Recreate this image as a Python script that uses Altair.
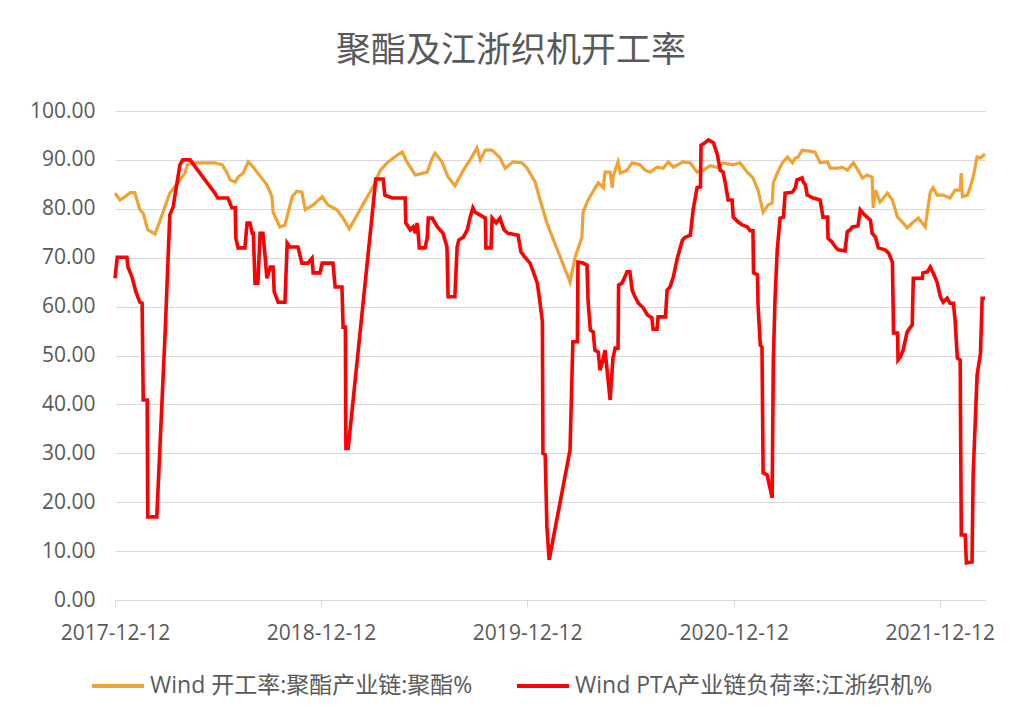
import altair as alt
import pandas as pd

START = "2017-12-12"

# 聚酯开工率 (days since 2017-12-12, value %)
poly_days = [0, 9, 18, 27, 35, 44, 50, 58, 71, 97, 115, 124, 128, 138, 177, 190, 198, 204, 213, 218,
             227, 236, 245, 253, 269, 278, 280, 292, 301, 314, 322, 331, 337, 351, 367, 377, 393, 404, 415,
             457, 470, 482, 500, 509, 517, 532, 553, 562, 567, 579, 590, 602, 617, 629, 641, 647, 656, 668,
             682, 691, 705, 721, 730, 735, 744, 753, 765, 806, 815, 827, 829, 838, 845, 856, 865, 868, 877,
             881, 882, 891, 895, 907, 916, 930, 939, 948, 960, 971, 980, 989, 1006, 1019, 1031, 1042, 1054,
             1067, 1077, 1095, 1107, 1120, 1130, 1139, 1148, 1157, 1164, 1166, 1173, 1182, 1191, 1200, 1205,
             1210, 1217, 1231, 1240, 1249, 1262, 1267, 1279, 1288, 1297, 1308, 1316, 1324, 1332, 1341, 1343,
             1347, 1355, 1368, 1377, 1386, 1396, 1403, 1414, 1423, 1435, 1444, 1449, 1456, 1467, 1479, 1488,
             1497, 1499, 1501, 1510, 1515, 1520, 1527, 1533, 1541]
poly_vals = [83.2, 81.8, 82.5, 83.3, 83.3, 79.8, 79.1, 75.7, 74.8, 83.2, 85.9, 87.3, 89.0, 89.4, 89.4, 89.0,
             87.5, 85.9, 85.5, 86.5, 87.3, 89.6, 88.5, 87.3, 84.9, 82.5, 79.3, 76.3, 76.7, 82.5, 83.6, 83.4,
             79.8, 80.8, 82.5, 80.8, 79.8, 78.1, 75.9, 84.5, 87.9, 89.4, 91.0, 91.6, 89.6, 86.9, 87.5, 90.4,
             91.4, 89.6, 86.5, 84.7, 87.9, 90.0, 92.4, 90.0, 92.0, 92.0, 90.4, 88.3, 89.6, 89.4, 88.3, 87.3,
             85.5, 81.8, 77.1, 65.0, 70.1, 74.2, 79.3, 81.8, 83.2, 85.3, 84.3, 87.5, 87.5, 84.3, 86.5, 89.6,
             87.3, 87.9, 89.4, 89.0, 87.9, 87.5, 88.5, 88.3, 89.6, 88.5, 89.6, 89.4, 87.5, 87.9, 88.8, 88.5,
             89.4, 89.0, 89.4, 87.5, 86.3, 83.8, 79.3, 80.8, 81.2, 85.3, 87.3, 89.4, 90.6, 89.4, 90.4, 90.6,
             92.0, 91.8, 91.6, 89.4, 89.6, 88.3, 88.3, 88.5, 87.9, 89.4, 87.9, 86.3, 86.9, 86.5, 80.2, 83.8,
             81.4, 83.2, 81.8, 78.3, 77.1, 76.1, 77.3, 78.1, 76.3, 83.4, 84.3, 82.8, 82.8, 82.2, 83.8, 83.8,
             87.3, 82.5, 82.8, 84.5, 86.5, 90.6, 90.4, 91.2]

# 江浙织机负荷率 (days since 2017-12-12, value %)
loom_days = [0, 4, 21, 23, 30, 37, 44, 48, 50, 57, 58, 74, 89, 97, 103, 115, 120, 133, 177, 182, 200, 207,
             213, 214, 218, 230, 234, 239, 243, 245, 248, 253, 257, 262, 266, 269, 275, 280, 282, 289, 301,
             305, 310, 324, 331, 342, 349, 351, 363, 367, 386, 390, 402, 404, 408, 409, 413, 462, 475, 478,
             491, 514, 515, 523, 528, 532, 535, 537, 539, 549, 553, 555, 562, 571, 581, 588, 590, 602, 606,
             609, 617, 624, 629, 634, 638, 647, 656, 657, 666, 668, 675, 682, 689, 696, 714, 719, 726, 735,
             741, 748, 753, 757, 758, 762, 765, 769, 806, 811, 819, 820, 829, 836, 838, 842, 847, 850, 856,
             859, 863, 868, 877, 882, 886, 891, 892, 898, 907, 912, 916, 921, 927, 936, 943, 951, 953, 960,
             962, 975, 978, 983, 989, 996, 1005, 1010, 1019, 1024, 1031, 1037, 1038, 1045, 1051, 1060, 1067,
             1072, 1077, 1081, 1086, 1093, 1095, 1104, 1111, 1120, 1125, 1130, 1131, 1138, 1139, 1143, 1146,
             1148, 1155, 1164, 1166, 1169, 1173, 1178, 1184, 1187, 1200, 1205, 1208, 1217, 1219, 1223, 1226,
             1237, 1249, 1254, 1262, 1263, 1270, 1276, 1281, 1293, 1297, 1302, 1306, 1316, 1320, 1325, 1332,
             1338, 1341, 1347, 1352, 1364, 1370, 1377, 1379, 1386, 1387, 1391, 1396, 1400, 1403, 1409, 1412,
             1414, 1430, 1431, 1439, 1444, 1449, 1456, 1462, 1467, 1474, 1479, 1485, 1488, 1492, 1497, 1499,
             1506, 1508, 1518, 1520, 1527, 1533, 1536, 1541]
loom_vals = [65.8, 70.1, 70.1, 68.1, 66.1, 63.0, 60.9, 60.7, 40.9, 40.9, 17.0, 17.0, 55.2, 78.7, 80.4, 89.0,
             90.0, 90.0, 83.2, 82.2, 82.2, 80.2, 80.2, 74.0, 72.0, 72.0, 77.1, 77.1, 75.0, 75.0, 64.8, 64.8,
             75.0, 75.0, 70.1, 65.8, 68.1, 68.1, 63.0, 60.9, 60.9, 73.0, 72.2, 72.2, 68.9, 68.9, 69.9, 66.9,
             66.9, 68.9, 68.9, 64.0, 64.0, 55.8, 55.8, 31.0, 31.0, 86.1, 86.1, 82.8, 82.2, 82.2, 77.1, 75.7,
             76.3, 75.0, 77.1, 75.0, 72.0, 72.0, 74.0, 78.1, 78.1, 76.3, 75.0, 72.2, 62.0, 62.0, 72.2, 73.6,
             74.2, 75.7, 78.3, 80.2, 79.3, 78.7, 78.1, 72.0, 72.0, 78.1, 77.1, 78.1, 75.7, 75.0, 74.6, 71.2,
             70.1, 68.9, 67.1, 64.8, 60.7, 56.9, 30.0, 29.7, 15.0, 8.2, 30.7, 52.8, 52.8, 69.1, 68.9, 68.5,
             61.0, 55.2, 54.8, 51.1, 50.7, 47.0, 48.5, 51.1, 40.9, 49.5, 51.5, 51.5, 64.4, 64.8, 67.1, 67.1,
             63.4, 62.0, 60.7, 59.7, 58.3, 57.7, 55.4, 55.4, 57.9, 57.9, 63.4, 64.0, 66.1, 69.9, 73.6, 74.2,
             74.6, 79.8, 84.3, 84.5, 93.0, 93.5, 94.1, 93.5, 91.0, 87.9, 87.5, 85.3, 81.8, 81.8, 78.3, 77.3,
             76.7, 76.3, 75.5, 75.5, 66.9, 66.5, 60.3, 52.1, 51.7, 26.0, 25.6, 20.9, 48.5, 61.3, 71.6, 78.1,
             78.3, 83.2, 83.4, 84.3, 85.9, 86.3, 85.5, 84.9, 82.8, 82.2, 81.8, 78.3, 78.3, 74.0, 73.2, 72.2,
             71.6, 71.4, 75.3, 75.7, 76.3, 76.5, 79.8, 79.1, 78.3, 77.7, 75.0, 74.2, 72.0, 71.6, 71.0, 69.1,
             54.6, 54.6, 49.1, 49.7, 51.1, 53.2, 54.8, 55.8, 56.2, 65.8, 65.8, 66.9, 67.1, 68.1, 66.9, 65.0,
             62.0, 60.9, 61.7, 60.7, 60.7, 57.3, 49.5, 49.1, 13.3, 13.3, 7.6, 7.8, 25.6, 46.0, 50.5, 61.7,
             61.7]

S1 = "Wind 开工率:聚酯产业链:聚酯%"
S2 = "Wind PTA产业链负荷率:江浙织机%"
TITLE = "聚酯及江浙织机开工率"
X_TICKS = ["2017-12-12", "2018-12-12", "2019-12-12", "2020-12-12", "2021-12-12"]
Y_TICKS = [0, 10, 20, 30, 40, 50, 60, 70, 80, 90, 100]

t0 = pd.Timestamp(START)


def frame(days, vals, name):
    return pd.DataFrame({
        "date": [(t0 + pd.Timedelta(days=d)).strftime("%Y-%m-%d") for d in days],
        "value": vals,
        "series": name,
        "order": list(range(len(days))),
    })


df1 = frame(poly_days, poly_vals, S1)
df2 = frame(loom_days, loom_vals, S2)

FONT = "Open Sans, Noto Sans CJK SC, sans-serif"
TXT = "#595959"
GRID = "#d9d9d9"

last = (t0 + pd.Timedelta(days=max(poly_days))).strftime("%Y-%m-%d")


def dt(s):
    y, m, d = [int(p) for p in s.split("-")]
    return alt.DateTime(year=y, month=m, date=d, utc=True)


x_enc = alt.X(
    "date:T",
    scale=alt.Scale(type="utc", domain=[dt(START), dt(last)], nice=False),
    axis=alt.Axis(
        title=None, values=[dt(s) for s in X_TICKS],
        labelExpr="utcFormat(datum.value, '%Y-%m-%d')",
        grid=False, domainColor=GRID, domainWidth=1, tickColor=GRID, tickSize=7, ticks=True,
        labelFont=FONT, labelFontSize=21, labelColor=TXT, labelPadding=15, labelFlush=False,
        labelOverlap=False,
    ),
)
y_enc = alt.Y(
    "value:Q",
    scale=alt.Scale(domain=[0, 100], nice=False),
    axis=alt.Axis(
        title=None, values=Y_TICKS, format=".2f", grid=True, gridColor=GRID, gridWidth=1,
        domain=False, ticks=False, labelFont=FONT, labelFontSize=21, labelColor=TXT,
        labelPadding=20,
    ),
)
color_enc = alt.Color(
    "series:N",
    scale=alt.Scale(domain=[S1, S2], range=["#F2A233", "#FF0000"]),
    legend=alt.Legend(
        title=None, orient="none", direction="horizontal", legendX=-25, legendY=547,
        symbolType="stroke", symbolSize=2700, symbolStrokeWidth=4, labelFont=FONT,
        labelFontSize=23, labelColor=TXT, labelLimit=600, columnPadding=36, labelOffset=4,
    ),
)

line1 = alt.Chart(df1).mark_line(strokeWidth=3.2, interpolate="linear").encode(
    x=x_enc, y=y_enc, color=color_enc, order="order:Q")
line2 = alt.Chart(df2).mark_line(strokeWidth=3.6, interpolate="linear").encode(
    x=x_enc, y=y_enc, color=color_enc, order="order:Q")

chart = alt.layer(line1, line2).properties(
    width=870, height=489,
    title=alt.TitleParams(TITLE, font="Noto Sans CJK SC", fontSize=35, fontWeight="normal",
                          color=TXT, anchor="middle", dx=-39, offset=31),
    autosize=alt.AutoSizeParams(type="none"),
    padding={"left": 107, "top": 103, "right": 19, "bottom": 109},
).configure_view(stroke=None)

chart.save("out.html", embed_options={"renderer": "svg", "actions": False})
